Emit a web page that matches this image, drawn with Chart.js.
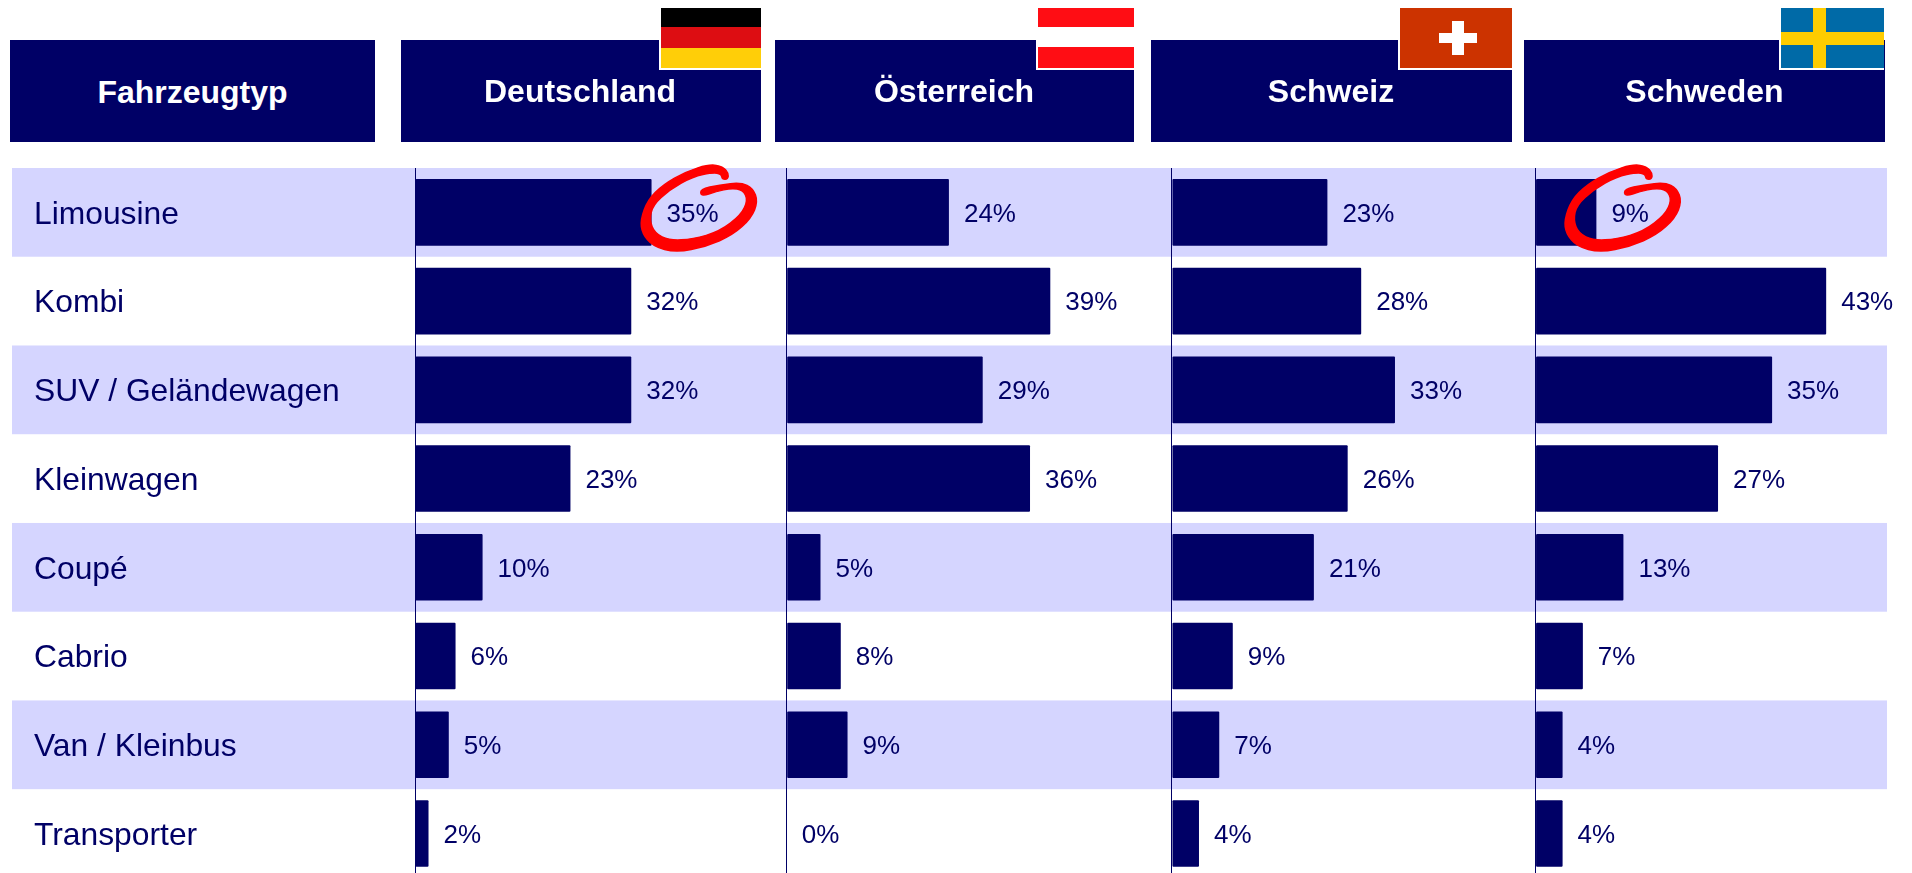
<!DOCTYPE html>
<html lang="de">
<head>
<meta charset="utf-8">
<title>Fahrzeugtyp</title>
<script src="https://cdn.jsdelivr.net/npm/chart.js@4"></script>
<style>
html,body{margin:0;padding:0;background:#fff;width:1912px;height:873px;overflow:hidden;font-family:"Liberation Sans",Arial,sans-serif}
#chart{position:absolute;left:0;top:0}
.head{position:absolute;top:40px;height:102px;background:#000066;color:#fff;font-weight:bold;font-size:32px;line-height:102px;text-align:center;white-space:nowrap}
.flag{position:absolute;top:8px;height:60px;overflow:hidden;box-sizing:content-box;border-left:2px solid #fff;border-bottom:2px solid #fff}
.flag i{position:absolute;display:block}
</style>
</head>
<body>
<canvas id="chart" width="1912" height="897"></canvas>
<div class="head" style="left:10px;width:365px;line-height:104px">Fahrzeugtyp</div>
<div class="head" style="left:401px;width:360px;line-height:103px;text-indent:-2px">Deutschland</div>
<div class="head" style="left:775px;width:359px;line-height:103px;text-indent:-1px">Österreich</div>
<div class="head" style="left:1151px;width:361px;line-height:103px;text-indent:-1px">Schweiz</div>
<div class="head" style="left:1524px;width:361px;line-height:103px">Schweden</div>

<div class="flag" style="left:659px;width:100px">
  <i style="left:0;top:0;width:100%;height:19px;background:#000"></i>
  <i style="left:0;top:19px;width:100%;height:21px;background:#dd0d12"></i>
  <i style="left:0;top:40px;width:100%;height:20px;background:#ffce08"></i>
</div>
<div class="flag" style="left:1036px;width:96px">
  <i style="left:0;top:0;width:100%;height:60px;background:#ff0d14"></i>
  <i style="left:0;top:19px;width:100%;height:20px;background:#fff"></i>
</div>
<div class="flag" style="left:1398px;width:112px;background:#cc3300">
  <i style="left:52px;top:13px;width:12px;height:34px;background:#fff"></i>
  <i style="left:39px;top:25px;width:38px;height:10px;background:#fff"></i>
</div>
<div class="flag" style="left:1779px;width:103px;background:#006aa7">
  <i style="left:32px;top:0;width:13px;height:60px;background:#fecc00"></i>
  <i style="left:0;top:24px;width:100%;height:13px;background:#fecc00"></i>
</div>

<script>
const categories = ["Limousine","Kombi","SUV / Geländewagen","Kleinwagen","Coupé","Cabrio","Van / Kleinbus","Transporter"];
const deutschland = [35,32,32,23,10,6,5,2];
const oesterreich = [24,39,29,36,5,8,9,0];
const schweiz     = [23,28,33,26,21,9,7,4];
const schweden    = [9,43,35,27,13,7,4,4];
const seriesNames = ["Deutschland","Österreich","Schweiz","Schweden"];
const seriesValues = [deutschland,oesterreich,schweiz,schweden];
const axisMax = [55,57,53.8,52];
const axisIds = ["xDE","xAT","xCH","xSE"];
const highlights = [{series:0,row:0,dx:-32},{series:3,row:0,dx:-53}];

const NAVY = "#000066", BAND = "#d5d5ff";

const ringOutline = [[242,118],[300,105],[365,98],[400,115],[415,155],[395,205],[340,255],[260,290],[170,308],[100,290],[68,250],[63,210],[85,150],[130,105],[200,65],[270,43],[310,50],[327,70],[325,88],[308,88],[305,72],[280,68],[220,80],[150,120],[100,165],[90,210],[105,250],[150,272],[220,268],[300,245],[365,195],[385,150],[370,120],[335,115],[290,125],[245,140]];

const bandsPlugin = {
  id:"bands",
  beforeDraw(chart){
    const {ctx,scales:{y}} = chart;
    const step = y.getPixelForValue(1)-y.getPixelForValue(0);
    ctx.save();
    ctx.fillStyle = BAND;
    categories.forEach((c,i)=>{
      if(i%2===0) ctx.fillRect(12,y.getPixelForValue(i)-step/2,1875,step);
    });
    ctx.restore();
  }
};

const valueLabels = {
  id:"valueLabels",
  afterDatasetsDraw(chart){
    const {ctx} = chart;
    ctx.save();
    ctx.fillStyle = NAVY;
    ctx.font = '26px "Liberation Sans", Arial, sans-serif';
    ctx.textAlign = "left";
    ctx.textBaseline = "middle";
    chart.data.datasets.forEach((ds,d)=>{
      chart.getDatasetMeta(d).data.forEach((bar,i)=>{
        ctx.fillText(ds.data[i]+"%",bar.x+15,bar.y+2);
      });
    });
    ctx.restore();
  }
};

const rings = {
  id:"rings",
  afterDraw(chart){
    const {ctx} = chart;
    highlights.forEach(h=>{
      const bar = chart.getDatasetMeta(h.series).data[h.row];
      const ox = bar.x+h.dx, oy = bar.y-62.5;
      const pts = ringOutline.map(p=>[ox+p[0]/3,oy+p[1]/3]);
      ctx.save();
      ctx.fillStyle = "#ff0000";
      ctx.strokeStyle = "#ff0000";
      ctx.lineWidth = 1.5;
      ctx.lineJoin = "round";
      ctx.beginPath();
      const n = pts.length;
      ctx.moveTo((pts[n-1][0]+pts[0][0])/2,(pts[n-1][1]+pts[0][1])/2);
      pts.forEach((p,i)=>{
        const q = pts[(i+1)%n];
        ctx.quadraticCurveTo(p[0],p[1],(p[0]+q[0])/2,(p[1]+q[1])/2);
      });
      ctx.closePath();
      ctx.fill();
      ctx.stroke();
      ctx.restore();
    });
  }
};

const xScales = {};
axisIds.forEach((id,i)=>{
  xScales[id] = {
    type:"linear",position:"bottom",stack:"columns",stackWeight:axisMax[i],
    min:0,max:axisMax[i],
    afterBuildTicks(s){ s.ticks=[{value:0}]; },
    afterFit(s){ s.height=0; },
    ticks:{display:false},
    border:{display:false},
    grid:{drawTicks:false,tickLength:0,lineWidth:1,color:NAVY}
  };
});

new Chart(document.getElementById("chart"),{
  type:"bar",
  data:{
    labels:categories,
    datasets:seriesValues.map((v,i)=>({
      label:seriesNames[i],data:v,xAxisID:axisIds[i],yAxisID:"y",
      backgroundColor:NAVY,borderColor:NAVY,borderWidth:0,
      borderRadius:1,borderSkipped:false,
      grouped:false,barPercentage:0.75,categoryPercentage:1
    }))
  },
  options:{
    indexAxis:"y",responsive:false,animation:false,
    layout:{padding:{left:34,top:168,right:25,bottom:1}},
    plugins:{legend:{display:false},tooltip:{enabled:false}},
    scales:Object.assign({},xScales,{
      y:{
        type:"category",
        afterFit(s){
          s.width=381;
          if(!s.labelShiftInstalled){
            s.labelShiftInstalled=true;
            const computeItems=s._computeLabelItems;
            s._computeLabelItems=function(area){
              const items=computeItems.call(this,area);
              items.forEach(it=>{ it.options.translation=[it.options.translation[0],it.options.translation[1]+2.5]; });
              return items;
            };
          }
        },
        grid:{display:false},border:{display:false},
        ticks:{crossAlign:"far",padding:0,color:NAVY,autoSkip:false,
          font:{family:'"Liberation Sans", Arial, sans-serif',size:31.8}}
      }
    })
  },
  plugins:[bandsPlugin,valueLabels,rings]
});
</script>
</body>
</html>
